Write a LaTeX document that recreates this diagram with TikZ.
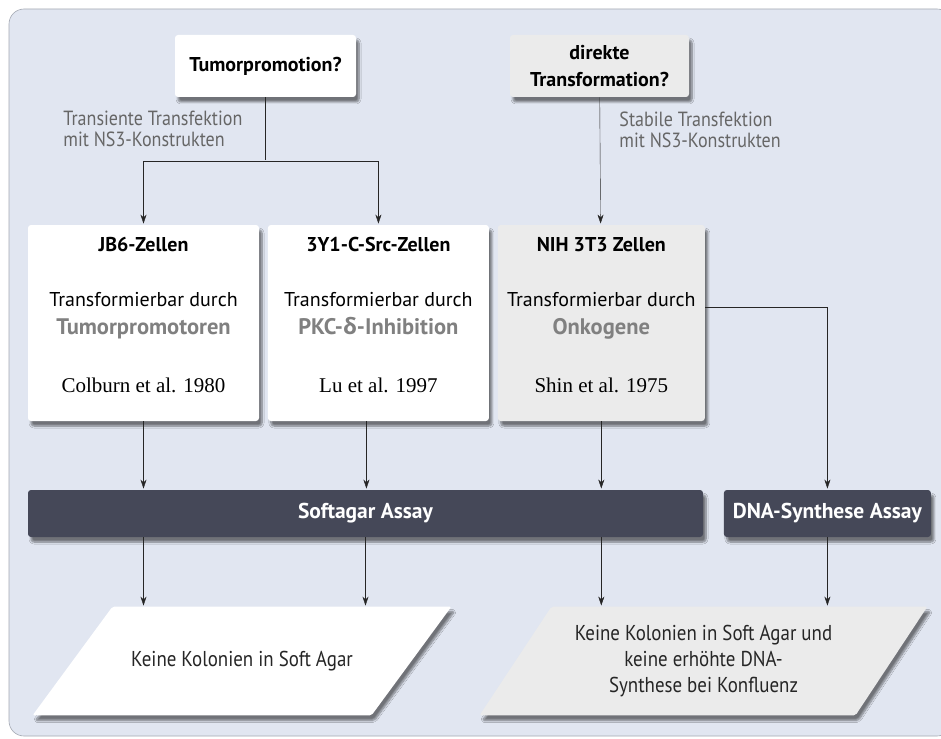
\documentclass[tikz,border=0pt]{standalone}
\usepackage{fontspec}
\setmainfont{PT Sans}
\newfontfamily\condfont{PT Sans}[FakeStretch=0.88]
\newfontfamily\citefont{Liberation Serif}
\newfontfamily\greekfont{Open Sans}
\usetikzlibrary{arrows.meta,positioning,shadows.blur}

\definecolor{panelbg}{HTML}{E1E6F1}
\definecolor{panelrim}{HTML}{A3A8B2}
\definecolor{cellgray}{HTML}{EBEBEB}
\definecolor{assaydark}{HTML}{454858}
\definecolor{hintgray}{HTML}{666666}
\definecolor{keygray}{HTML}{808080}

\pgfdeclarelayer{background}
\pgfsetlayers{background,main}

\newcommand\cellfont{\fontsize{20}{28}\selectfont}
\newcommand\trigger[1]{{\color{keygray}\bfseries\fontsize{22.5}{28}\selectfont #1}}
\newcommand\source[1]{{\citefont\fontsize{21}{28}\selectfont #1}}

\begin{document}
\begin{tikzpicture}[x=1pt,y=-1pt,>={Stealth[length=9pt,width=6pt]},line width=0.9pt]
	\tikzstyle{card}=[inner sep=0pt,rounded corners=3pt,blur shadow={shadow xshift=3pt,shadow yshift=-5pt,shadow opacity=50,shadow blur steps=8}]
	\tikzstyle{question}=[card,fill=white,minimum width=181pt,minimum height=62pt,align=center,font=\fontsize{20}{27}\selectfont\bfseries]
	\tikzstyle{cell}=[card,fill=white,minimum height=196pt]
	\tikzstyle{celltext}=[inner sep=0pt,align=center,font=\cellfont]
	\tikzstyle{hint}=[inner sep=0pt,align=left,text=hintgray,font=\condfont\fontsize{20.5}{21}\selectfont]
	\tikzstyle{assay}=[card,fill=assaydark,text=white,minimum height=47pt,font=\bfseries\fontsize{21.5}{24}\selectfont]
	\tikzstyle{result}=[inner sep=0pt,minimum height=108pt,align=center,text=black!85,font=\condfont\fontsize{21.5}{26}\selectfont]
	\tikzstyle{slab}=[rounded corners=2pt,blur shadow={shadow xshift=3pt,shadow yshift=-5pt,shadow opacity=50,shadow blur steps=8}]
	\tikzstyle{link}=[draw=black!85,shorten >=1pt]

	\useasboundingbox (0,0) rectangle (941,738);

	% questions on top
	\node[question] (tumor) at (265.5,66) {Tumorpromotion?};
	\node[question,fill=cellgray,minimum width=179pt] (direct) at (599.5,66) {direkte\\Transformation?};

	\node[hint,anchor=north west] (hintA) at (63,111) {Transiente Transfektion\\mit NS3-Konstrukten};
	\node[hint,anchor=north west] (hintB) at (619,111) {Stabile Transfektion\\mit NS3-Konstrukten};

	% cell lines
	\node[cell,minimum width=231pt] (jb6) at (143.5,323) {};
	\node[cell,minimum width=221pt] (src) [right=8pt of jb6] {};
	\node[cell,fill=cellgray,minimum width=207pt] (nih) [right=8pt of src] {};

	\node[celltext] (jb6t) [below=12pt of jb6.north] {\textbf{JB6-Zellen}\\[27pt]
		Transformierbar durch\\ \trigger{Tumorpromotoren}\\[30pt] \source{Colburn et al. 1980}};
	\node[celltext] (srct) [below=12pt of src.north] {\textbf{3Y1-C-Src-Zellen}\\[27pt]
		Transformierbar durch\\ \trigger{PKC-{\greekfont δ}-Inhibition}\\[30pt] \source{Lu et al. 1997}};
	\node[celltext] (niht) [below=12pt of nih.north] {\textbf{NIH 3T3 Zellen}\\[27pt]
		Transformierbar durch\\ \trigger{Onkogene}\\[30pt] \source{Shin et al. 1975}};

	% assays
	\node[assay,minimum width=675pt] (soft) at (365.5,513.5) {Softagar Assay};
	\node[assay,minimum width=207pt] (dna) [right=20pt of soft] {DNA-Synthese Assay};

	% outcomes
	\node[result,minimum width=338pt] (res1) at (242,661) {Keine Kolonien in Soft Agar};
	\node[result,minimum width=375pt] (res2) at (703.5,661) {Keine Kolonien in Soft Agar und\\keine erhöhte DNA-\\Synthese bei Konfluenz};

	\begin{pgfonlayer}{background}
		\draw[panelrim,fill=panelbg,line width=0.6pt,rounded corners=15pt] (9,9) rectangle (952,736);
		\path[slab,fill=white] ([xshift=-40pt]res1.south west) -- ([xshift=-40pt]res1.south east)
			-- ([xshift=40pt]res1.north east) -- ([xshift=40pt]res1.north west) -- cycle;
		\path[slab,fill=cellgray] ([xshift=-36pt]res2.south west) -- ([xshift=-36pt]res2.south east)
			-- ([xshift=36pt]res2.north east) -- ([xshift=36pt]res2.north west) -- cycle;
	\end{pgfonlayer}

	\coordinate (split) at ([yshift=-64pt]tumor.south);
	\draw[link] (tumor) -- (split);
	\draw[link,->] (split) -| (jb6);
	\draw[link,->] (split) -| (src);
	\draw[link,->] (direct) -- (nih);

	\draw[link,->] (jb6) -- (jb6 |- soft.north);
	\draw[link,->] ([xshift=-12pt]src.south) -- ([xshift=-12pt]src.south |- soft.north);
	\draw[link,->] (nih) -- (nih |- soft.north);
	\draw[link,->] ([yshift=16pt]nih.east) -| (dna);

	\draw[link,->] (soft.south -| jb6) -- (jb6 |- res1.north);
	\draw[link,->] (soft) -- (soft |- res1.north);
	\draw[link,->] (soft.south -| nih) -- (nih |- res2.north);
	\draw[link,->] (dna) -- (dna |- res2.north);
\end{tikzpicture}
\end{document}
